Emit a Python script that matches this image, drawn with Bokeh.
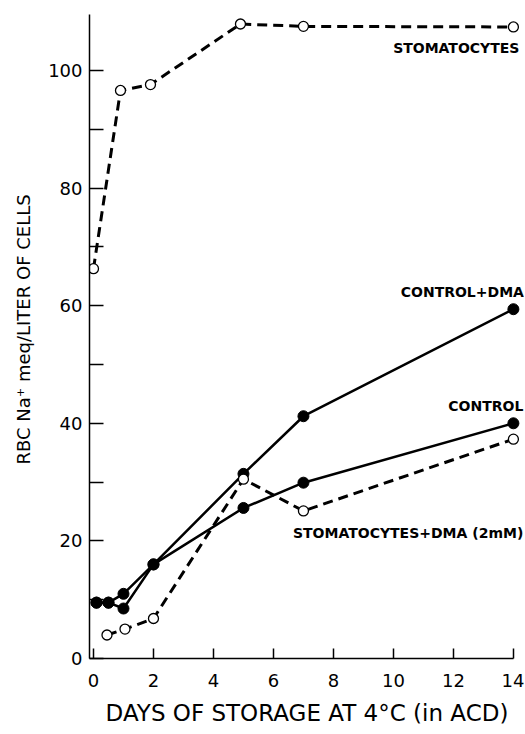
from bokeh.plotting import figure
from bokeh.models import FixedTicker, Range1d, Label
from bokeh.embed import file_html
from bokeh.resources import INLINE

# Data (days of storage, RBC Na+ meq/liter of cells)
stoma_days = [0, 0.9, 1.9, 4.9, 7, 14]
stoma_na = [66.3, 96.6, 97.6, 107.9, 107.5, 107.4]

ctrl_dma_days = [0.1, 0.5, 1, 2, 5, 7, 14]
ctrl_dma_na = [9.5, 9.5, 8.5, 16, 31.4, 41.2, 59.4]

ctrl_days = [0.1, 0.5, 1, 2, 5, 7, 14]
ctrl_na = [9.5, 9.5, 11, 16, 25.6, 29.9, 40.0]

stoma_dma_days = [0.45, 1.05, 2, 5, 7, 14]
stoma_dma_na = [4.0, 5.0, 6.8, 30.5, 25.1, 37.3]

x_ticks = [0, 2, 4, 6, 8, 10, 12, 14]
y_ticks = [0, 20, 40, 60, 80, 100]
y_minor = [10, 30, 50, 70, 90]

FONT = "DejaVu Sans"
X0, X1 = -0.133, 14.37
Y0, Y1 = 0, 111.9

p = figure(width=524, height=730, output_backend="svg", toolbar_location=None,
           x_range=Range1d(X0, X1), y_range=Range1d(Y0, Y1),
           min_border_left=89, min_border_right=0, min_border_top=0, min_border_bottom=72)
p.outline_line_color = None
p.grid.grid_line_color = None
p.background_fill_color = "white"

# lines
p.line(stoma_days, stoma_na, line_color="black", line_width=3, line_dash="10 6")
p.line(stoma_dma_days, stoma_dma_na, line_color="black", line_width=3, line_dash="10 6")
p.line(ctrl_dma_days, ctrl_dma_na, line_color="black", line_width=2.5)
p.line(ctrl_days, ctrl_na, line_color="black", line_width=2.5)

# markers
p.scatter(ctrl_dma_days, ctrl_dma_na, size=11, fill_color="black", line_color="black")
p.scatter(ctrl_days, ctrl_na, size=11, fill_color="black", line_color="black")
p.scatter(stoma_days, stoma_na, size=10, fill_color="white", line_color="black", line_width=1.3)
p.scatter(stoma_dma_days, stoma_dma_na, size=10, fill_color="white", line_color="black", line_width=1.3)

# axes
xa = p.xaxis[0]
xa.ticker = FixedTicker(ticks=x_ticks)
xa.bounds = (X0, 14)
xa.major_tick_in = 10
xa.major_tick_out = 0
xa.minor_tick_line_color = None
xa.axis_line_width = 1.5
xa.major_tick_line_width = 1.5
xa.major_label_text_font = FONT
xa.major_label_text_font_size = "18px"
xa.major_label_text_color = "black"
xa.major_label_standoff = 15
xa.axis_label = "DAYS OF STORAGE AT 4°C (in ACD)"
xa.axis_label_text_font = FONT
xa.axis_label_text_font_size = "23px"
xa.axis_label_text_font_style = "normal"
xa.axis_label_text_color = "black"
xa.axis_label_standoff = 10

ya = p.yaxis[0]
ya.ticker = FixedTicker(ticks=y_ticks, minor_ticks=y_minor)
ya.bounds = (0, 109.5)
ya.major_tick_in = 14
ya.major_tick_out = 0
ya.minor_tick_in = 14
ya.minor_tick_out = 0
ya.axis_line_width = 1.5
ya.major_tick_line_width = 1.5
ya.minor_tick_line_width = 1.5
ya.major_label_text_font = FONT
ya.major_label_text_font_size = "18px"
ya.major_label_text_color = "black"
ya.major_label_standoff = 7
ya.axis_label = "RBC Na\u207a meq/LITER OF CELLS"
ya.axis_label_text_font = FONT
ya.axis_label_text_font_size = "18px"
ya.axis_label_text_font_style = "normal"
ya.axis_label_text_color = "black"
ya.axis_label_standoff = 11

# series labels
labels = [
    ("STOMATOCYTES", 14.2, 103.9),
    ("CONTROL+DMA", 14.35, 62.4),
    ("CONTROL", 14.33, 43.0),
    ("STOMATOCYTES+DMA (2mM)", 14.33, 21.3),
]
for txt, lx, ly in labels:
    p.add_layout(Label(x=lx, y=ly, text=txt, text_align="right", text_baseline="middle",
                       text_font=FONT, text_font_size="14px", text_font_style="bold",
                       text_color="black"))

open("out.html", "w").write(file_html(p, INLINE))
